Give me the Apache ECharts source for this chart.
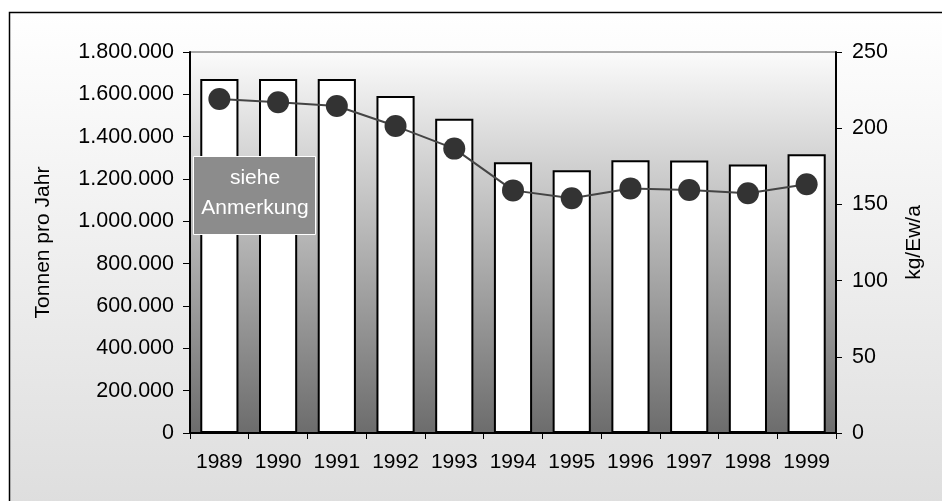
<!DOCTYPE html>
<html>
<head>
<meta charset="utf-8">
<script src="https://cdn.jsdelivr.net/npm/echarts@6/dist/echarts.min.js"></script>
<style>html,body{margin:0;padding:0;background:#fff}#c{width:942px;height:501px}</style>
</head>
<body>
<div id="c"></div>
<script>
const years = ['1989','1990','1991','1992','1993','1994','1995','1996','1997','1998','1999'];
const tonnen = [1672000, 1672000, 1672000, 1592000, 1485000, 1279000, 1241000, 1288000, 1287000, 1269000, 1317000];
const kgEwA = [219.2, 217.0, 214.6, 201.4, 186.6, 159.2, 154.0, 160.5, 159.4, 157.3, 163.2];
const leftName = 'Tonnen pro Jahr';
const rightName = 'kg/Ew/a';
const noteLines = ['siehe', 'Anmerkung'];

const FONT = '"Liberation Sans", Arial, sans-serif';
function fmtDE(v){ return String(v).replace(/\B(?=(\d{3})+(?!\d))/g, '.'); }

const chart = echarts.init(document.getElementById('c'), null, {renderer:'canvas'});
chart.setOption({
  animation: false,
  backgroundColor: '#ffffff',
  textStyle: {fontFamily: FONT},
  graphic: [
    {type:'rect', z:-10, silent:true, shape:{x:9.5, y:12.5, width:960, height:520},
     style:{fill:{type:'linear',x:0,y:0,x2:0,y2:1,colorStops:[{offset:0,color:'#ffffff'},{offset:1,color:'#dcdcdc'}]},
            stroke:'#000', lineWidth:1.5}},
    {type:'rect', zlevel:2, z:100, silent:true, shape:{x:193.5, y:156.5, width:122, height:78},
     style:{fill:'#8c8c8c', stroke:'#ffffff', lineWidth:1}},
    {type:'text', zlevel:2, z:101, silent:true, style:{x:255, y:178, text:noteLines[0], fill:'#ffffff', font:'21px '+FONT, textAlign:'center', textVerticalAlign:'middle'}},
    {type:'text', zlevel:2, z:101, silent:true, style:{x:255, y:208, text:noteLines[1], fill:'#ffffff', font:'21px '+FONT, textAlign:'center', textVerticalAlign:'middle'}}
  ],
  grid: {left:190, right:106, top:52, bottom:68, show:true,
    backgroundColor:{type:'linear',x:0,y:0,x2:0,y2:1,colorStops:[{offset:0,color:'#fbfbfb'},{offset:1,color:'#6c6c6c'}]},
    borderColor:'#555', borderWidth:1},
  xAxis: {type:'category', data:years, boundaryGap:true,
    axisLine:{lineStyle:{color:'#000', width:2}},
    axisTick:{show:true, interval:0, length:6, lineStyle:{color:'#000', width:1}},
    axisLabel:{color:'#000', fontSize:21, margin:19, interval:0, hideOverlap:false, fontFamily:FONT}},
  yAxis: [
    {type:'value', min:0, max:1800000, interval:200000, position:'left',
     name:leftName, nameLocation:'middle', nameGap:136, nameRotate:90,
     nameTextStyle:{color:'#000', fontSize:21, fontFamily:FONT},
     axisLine:{show:true, lineStyle:{color:'#000', width:2}},
     axisTick:{show:true, length:7, lineStyle:{color:'#000'}},
     splitLine:{show:false},
     axisLabel:{color:'#000', fontSize:21.5, margin:16, fontFamily:FONT, formatter:fmtDE}},
    {type:'value', min:0, max:250, interval:50, position:'right',
     name:rightName, nameLocation:'middle', nameGap:68, nameRotate:90,
     nameTextStyle:{color:'#000', fontSize:21, fontFamily:FONT},
     axisLine:{show:true, lineStyle:{color:'#000', width:2}},
     axisTick:{show:true, length:6, lineStyle:{color:'#000'}},
     splitLine:{show:false},
     axisLabel:{color:'#000', fontSize:21.5, margin:16, fontFamily:FONT}}
  ],
  series: [
    {type:'bar', data:tonnen, yAxisIndex:0, barCategoryGap:'35%',
     itemStyle:{color:'#ffffff', borderColor:'#000', borderWidth:2}},
    {type:'line', data:kgEwA, yAxisIndex:1, symbol:'circle', symbolSize:22,
     itemStyle:{color:'#333333'}, lineStyle:{color:'#444444', width:2}, z:5}
  ]
});
</script>
</body>
</html>
